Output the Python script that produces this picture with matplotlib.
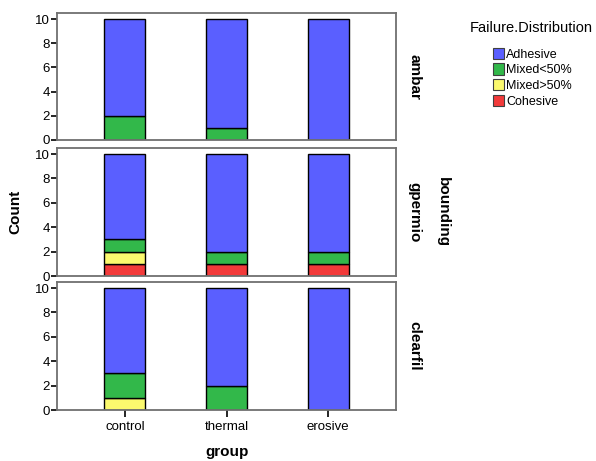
import matplotlib
matplotlib.use("Agg")
import matplotlib.pyplot as plt
from matplotlib.patches import Patch
import numpy as np

plt.rcParams['font.family'] = ['Liberation Sans', 'DejaVu Sans']

groups = ['control', 'thermal', 'erosive']
panels = ['ambar', 'gpermio', 'clearfil']
categories = ['Cohesive', 'Mixed>50%', 'Mixed<50%', 'Adhesive']
colors = {'Adhesive': '#5a5fff', 'Mixed<50%': '#32b84a',
          'Mixed>50%': '#fbf96e', 'Cohesive': '#f23a3a'}

# counts per panel: rows = categories (bottom to top), cols = groups
ambar = {'Cohesive': [0, 0, 0], 'Mixed>50%': [0, 0, 0],
         'Mixed<50%': [2, 1, 0], 'Adhesive': [8, 9, 10]}
gpermio = {'Cohesive': [1, 1, 1], 'Mixed>50%': [1, 0, 0],
           'Mixed<50%': [1, 1, 1], 'Adhesive': [7, 8, 8]}
clearfil = {'Cohesive': [0, 0, 0], 'Mixed>50%': [1, 0, 0],
            'Mixed<50%': [2, 2, 0], 'Adhesive': [7, 8, 10]}
data = [ambar, gpermio, clearfil]

fig = plt.figure(figsize=(5.96, 4.61), dpi=100)
W, H = 596, 461
boxes = [(13, 140), (148, 276), (282, 410)]
x0, x1 = 57, 396
spine_c = '#707070'

x = np.arange(len(groups))
for i, (top, bot) in enumerate(boxes):
    ax = fig.add_axes([x0 / W, 1 - bot / H, (x1 - x0) / W, (bot - top) / H])
    bottom = np.zeros(len(groups))
    for cat in categories:
        vals = np.array(data[i][cat], dtype=float)
        mask = vals > 0
        ax.bar(x[mask], vals[mask], bottom=bottom[mask], width=0.4,
               color=colors[cat], edgecolor='black', linewidth=1.0, zorder=2)
        bottom += vals
    ax.set_xlim(-0.667, 2.667)
    ax.set_ylim(0, 10.5)
    ax.set_yticks([0, 2, 4, 6, 8, 10])
    ax.tick_params(axis='y', direction='out', length=4, width=1.2,
                   labelsize=9.5, pad=1, color='black')
    for s in ax.spines.values():
        s.set_color(spine_c)
        s.set_linewidth(1.3)
    if i < 2:
        ax.set_xticks([])
    else:
        ax.set_xticks(x)
        ax.set_xticklabels(groups)
        ax.tick_params(axis='x', direction='out', length=5, width=1.2,
                       labelsize=9.5, pad=3, color='black')
    ax.text(1.055, 0.5, panels[i], transform=ax.transAxes, rotation=-90,
            ha='center', va='center', fontsize=11, fontweight='bold')

fig.text(15 / W, 1 - 212 / H, 'Count', rotation=90, ha='center',
         va='center', fontsize=11, fontweight='bold')
fig.text(227 / W, 1 - 452 / H, 'group', ha='center', va='center',
         fontsize=11, fontweight='bold')
fig.text(443 / W, 1 - 212 / H, 'bounding', rotation=-90, ha='center',
         va='center', fontsize=11, fontweight='bold')

fig.text(470 / W, 1 - 28 / H, 'Failure.Distribution', ha='left',
         va='center', fontsize=10.5)
labels = ['Adhesive', 'Mixed<50%', 'Mixed>50%', 'Cohesive']
handles = [Patch(facecolor=colors[c], edgecolor='#404040', linewidth=0.8)
           for c in labels]
leg = fig.legend(handles, labels, loc='upper left',
                 bbox_to_anchor=(484 / W, 1 - 39 / H), frameon=False,
                 fontsize=9, handlelength=0.9, handleheight=1.0,
                 handletextpad=0.15, labelspacing=0.22, borderpad=0.2)

fig.savefig('out.png', dpi=100)
